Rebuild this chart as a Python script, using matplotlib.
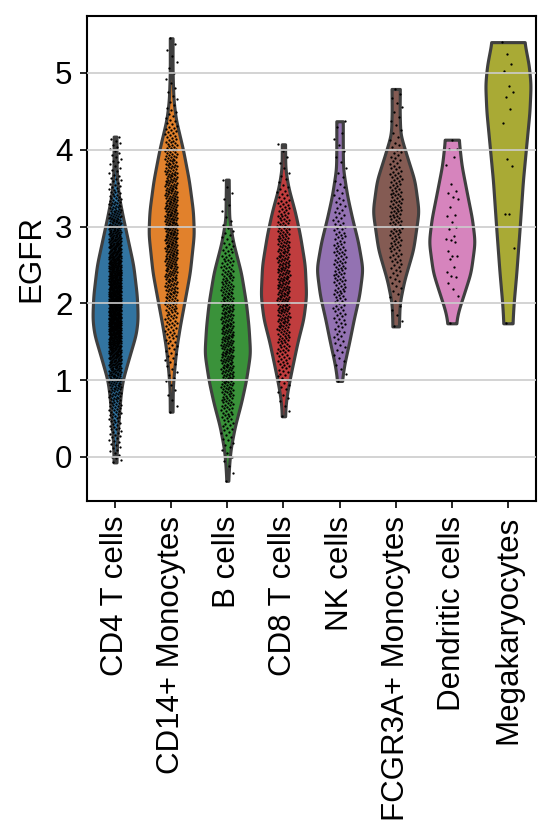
import colorsys
import matplotlib
matplotlib.use('Agg')  # Use non-interactive backend
import matplotlib.pyplot as plt
import matplotlib.colors as mcolors
import numpy as np


# Cell type categories (x axis order)
categories = ["CD4 T cells", "CD14+ Monocytes", "B cells", "CD8 T cells",
              "NK cells", "FCGR3A+ Monocytes", "Dendritic cells", "Megakaryocytes"]
cell_counts = [1144, 480, 342, 316, 154, 150, 37, 15]
category_colors = ["#1f77b4", "#ff7f0e", "#2ca02c", "#d62728",
                   "#9467bd", "#8c564b", "#e377c2", "#bcbd22"]

# Violin outlines: expression levels and relative widths
cd4_levels = [-0.07, 0.2, 0.5, 0.8, 1.0, 1.3, 1.6, 1.8, 2.1, 2.5, 2.8, 3.1, 3.4, 3.7, 4.17]
cd4_widths = [0.06, 0.09, 0.16, 0.24, 0.33, 0.62, 0.92, 1.0, 0.96, 0.8, 0.58, 0.36, 0.16, 0.07, 0.06]

cd14_levels = [0.59, 0.9, 1.1, 1.4, 1.7, 2.0, 2.4, 2.9, 3.2, 3.6, 4.0, 4.4, 4.65, 5.0, 5.45]
cd14_widths = [0.06, 0.07, 0.12, 0.22, 0.38, 0.57, 0.82, 1.0, 0.96, 0.78, 0.52, 0.2, 0.1, 0.06, 0.06]

b_levels = [-0.31, -0.1, 0.1, 0.4, 0.7, 1.0, 1.35, 1.7, 2.0, 2.4, 2.8, 3.1, 3.61]
b_widths = [0.04, 0.08, 0.14, 0.33, 0.6, 0.82, 1.0, 0.93, 0.82, 0.6, 0.25, 0.08, 0.06]

cd8_levels = [0.53, 0.7, 0.9, 1.15, 1.5, 1.8, 2.1, 2.5, 2.9, 3.2, 3.5, 3.75, 4.07]
cd8_widths = [0.07, 0.1, 0.2, 0.37, 0.62, 0.88, 1.0, 0.94, 0.72, 0.5, 0.22, 0.08, 0.07]

nk_levels = [0.99, 1.2, 1.5, 1.8, 2.1, 2.45, 2.8, 3.1, 3.4, 3.75, 4.0, 4.37]
nk_widths = [0.1, 0.2, 0.42, 0.62, 0.85, 1.0, 0.8, 0.55, 0.33, 0.15, 0.14, 0.14]

fcgr_levels = [1.7, 2.0, 2.3, 2.7, 3.2, 3.6, 3.95, 4.2, 4.5, 4.79]
fcgr_widths = [0.14, 0.17, 0.37, 0.76, 1.0, 0.82, 0.45, 0.2, 0.17, 0.18]

dc_levels = [1.74, 1.9, 2.1, 2.4, 2.8, 3.1, 3.4, 3.8, 4.13]
dc_widths = [0.18, 0.28, 0.5, 0.82, 1.0, 0.88, 0.68, 0.42, 0.3]

mk_levels = [1.74, 2.0, 2.4, 3.0, 3.6, 4.1, 4.5, 4.85, 5.1, 5.4]
mk_widths = [0.2, 0.25, 0.37, 0.52, 0.66, 0.82, 0.95, 1.0, 0.92, 0.72]

# Small groups: individual cells
dc_values = [4.13, 4.01, 4.01, 3.90, 3.80, 3.55, 3.46, 3.43, 3.38, 3.36, 3.25, 3.15,
             3.14, 3.06, 2.99, 2.97, 2.88, 2.84, 2.83, 2.80, 2.68, 2.61, 2.61, 2.58,
             2.47, 2.41, 2.35, 2.34, 2.27, 2.19, 2.09, 1.74]
mk_values = [5.40, 5.24, 5.11, 5.02, 4.83, 4.75, 4.69, 4.53, 4.35, 3.88, 3.79,
             3.16, 3.16, 2.72, 1.74]

y_ticks = [0, 1, 2, 3, 4, 5]
gene = "EGFR"


def desaturate(color, prop=0.75):
    """Reduce saturation the way seaborn does for violin bodies."""
    r, g, b = mcolors.to_rgb(color)
    h, l, s = colorsys.rgb_to_hls(r, g, b)
    return colorsys.hls_to_rgb(h, l, s * prop)


def smooth_profile(levels, widths, n=300, sigma=0.07):
    """Interpolate the outline on a fine grid and soften the corners."""
    y = np.linspace(levels[0], levels[-1], n)
    w = np.interp(y, levels, widths)
    step = y[1] - y[0]
    half = int(3 * sigma / step)
    k = np.arange(-half, half + 1)
    kernel = np.exp(-0.5 * (k * step / sigma) ** 2)
    kernel /= kernel.sum()
    padded = np.pad(w, half, mode='edge')
    ws = np.convolve(padded, kernel, mode='valid')
    return y, ws / ws.max()


def cells_from_profile(y, w, count):
    """Place cells at evenly spaced quantiles of the outline density."""
    cdf = np.concatenate([[0], np.cumsum((w[1:] + w[:-1]) / 2 * np.diff(y))])
    cdf /= cdf[-1]
    q = np.linspace(0, 1, count)
    return np.interp(q, cdf, y)


def main():
    plt.rcParams['font.family'] = ['Liberation Sans', 'DejaVu Sans']
    plt.rcParams['font.size'] = 15

    fig = plt.figure(figsize=(552 / 150, 837 / 150), dpi=150)
    ax = fig.add_axes([87 / 552, 1 - 501 / 837, (536 - 87) / 552, (501 - 16) / 837])

    profiles = [(cd4_levels, cd4_widths), (cd14_levels, cd14_widths),
                (b_levels, b_widths), (cd8_levels, cd8_widths),
                (nk_levels, nk_widths), (fcgr_levels, fcgr_widths),
                (dc_levels, dc_widths), (mk_levels, mk_widths)]
    listed = {6: dc_values, 7: mk_values}

    for i, (levels, widths) in enumerate(profiles):
        y, w = smooth_profile(levels, widths)
        ax.fill_betweenx(y, i - 0.4 * w, i + 0.4 * w,
                         facecolor=desaturate(category_colors[i]), edgecolor='#3f3f3f',
                         linewidth=1.5, zorder=1)

        if i in listed:
            vals = np.sort(np.array(listed[i]))
        else:
            vals = cells_from_profile(y, w, cell_counts[i])
        # deterministic jitter across the strip
        idx = np.arange(len(vals))
        jitter = ((idx * 0.6180339887 + 0.37) % 1.0) * 2 - 1
        ax.scatter(i + 0.11 * jitter, vals, s=1.2, c='black', linewidths=0, zorder=2)

    ax.set_xlim(-0.5, len(categories) - 0.5)
    ax.set_ylim(-0.573, 5.74)
    ax.set_xticks(range(len(categories)))
    ax.set_xticklabels(categories, rotation=90)
    ax.set_yticks(y_ticks)
    ax.set_ylabel(gene)

    ax.set_axisbelow(False)
    ax.yaxis.grid(True, color='#cccccc', linewidth=0.8, zorder=3)
    ax.xaxis.grid(False)
    for spine in ax.spines.values():
        spine.set_linewidth(1.0)

    plt.savefig("out.png", dpi=150)
    plt.close()


if __name__ == "__main__":
    main()
